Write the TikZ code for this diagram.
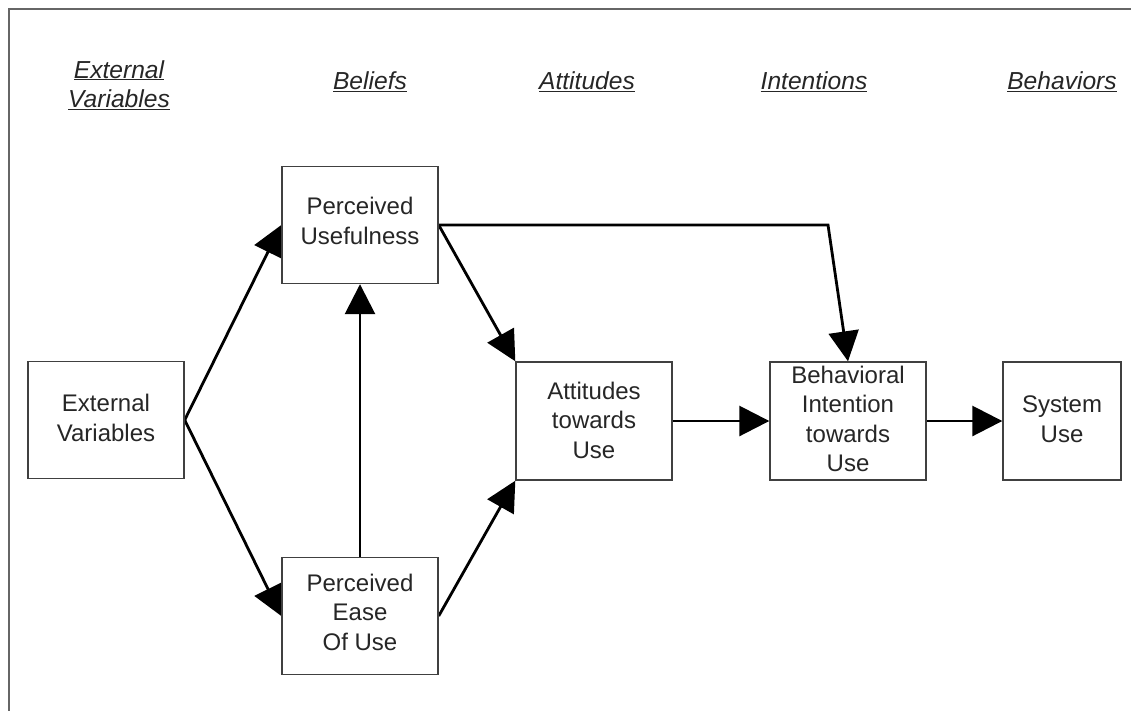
\documentclass[tikz,border=0pt]{standalone}
\usepackage{fontspec}
\setmainfont{Liberation Sans}
\usetikzlibrary{arrows.meta,backgrounds}
\begin{document}
\begin{tikzpicture}[x=1pt,y=-1pt,
  box/.style={draw=black!75,fill=white,line width=1.4pt,minimum width=156pt,minimum height=117pt,inner sep=0pt},
  txt/.style={align=center,font=\fontsize{24}{29.5}\selectfont,text=black!85,inner sep=0pt},
  head/.style={align=center,font=\fontsize{24.6}{29.5}\selectfont\itshape,text=black!85,inner sep=0pt},
  link/.style={line width=2.8pt,-{Triangle[length=30pt,width=30pt]}}]
  \useasboundingbox (0,0) rectangle (1131,710);
  % outer frame
  \draw[black!60,line width=1.5pt] (9,712) -- (9,9) -- (1133,9);

  % column headings
  \node[head] (h1) at (119,85) {\underline{External}\\\underline{Variables}};
  \node[head] (h2) at (370,82) {\underline{Beliefs}};
  \node[head] (h3) at (587,82) {\underline{Attitudes}};
  \node[head] (h4) at (814,82) {\underline{Intentions}};
  \node[head] (h5) at (1062,82) {\underline{Behaviors}};

  % boxes (white, drawn over the arrow ends)
  \node[box] (ext) at (106,420) {};
  \node[txt] (extt) at (106,418) {External\\Variables};
  \node[box] (pu) at (360,225) {};
  \node[txt] (put) at (360,221) {Perceived\\Usefulness};
  \node[box] (peou) at (360,616) {};
  \node[txt] (peout) at (360,612) {Perceived\\Ease\\Of Use};
  \node[box,minimum height=118pt] (att) at (594,421) {};
  \node[txt] (attt) at (594,420) {Attitudes\\towards\\Use};
  \node[box,minimum height=118pt] (bi) at (848,421) {};
  \node[txt] (bit) at (848,419) {Behavioral\\Intention\\towards\\Use};
  \node[box,minimum width=118pt,minimum height=118pt] (sys) at (1062,421) {};
  \node[txt] (syst) at (1062,419) {System\\Use};

  % connectors, kept behind the boxes
  \coordinate (bend) at (828,225);
  \begin{scope}[on background layer]
    \draw[link] (ext.east) -- (pu.west);
    \draw[link] (ext.east) -- (peou.west);
    \draw[link] (peou.north) -- (pu.south);
    \draw[link] (pu.east) -- (att.north west);
    \draw[link] (pu.east) -- (bend) -- (bi.north);
    \draw[link] (peou.east) -- (att.south west);
    \draw[link] (att.east) -- (bi.west);
    \draw[link] (bi.east) -- (sys.west);
  \end{scope}
\end{tikzpicture}
\end{document}
